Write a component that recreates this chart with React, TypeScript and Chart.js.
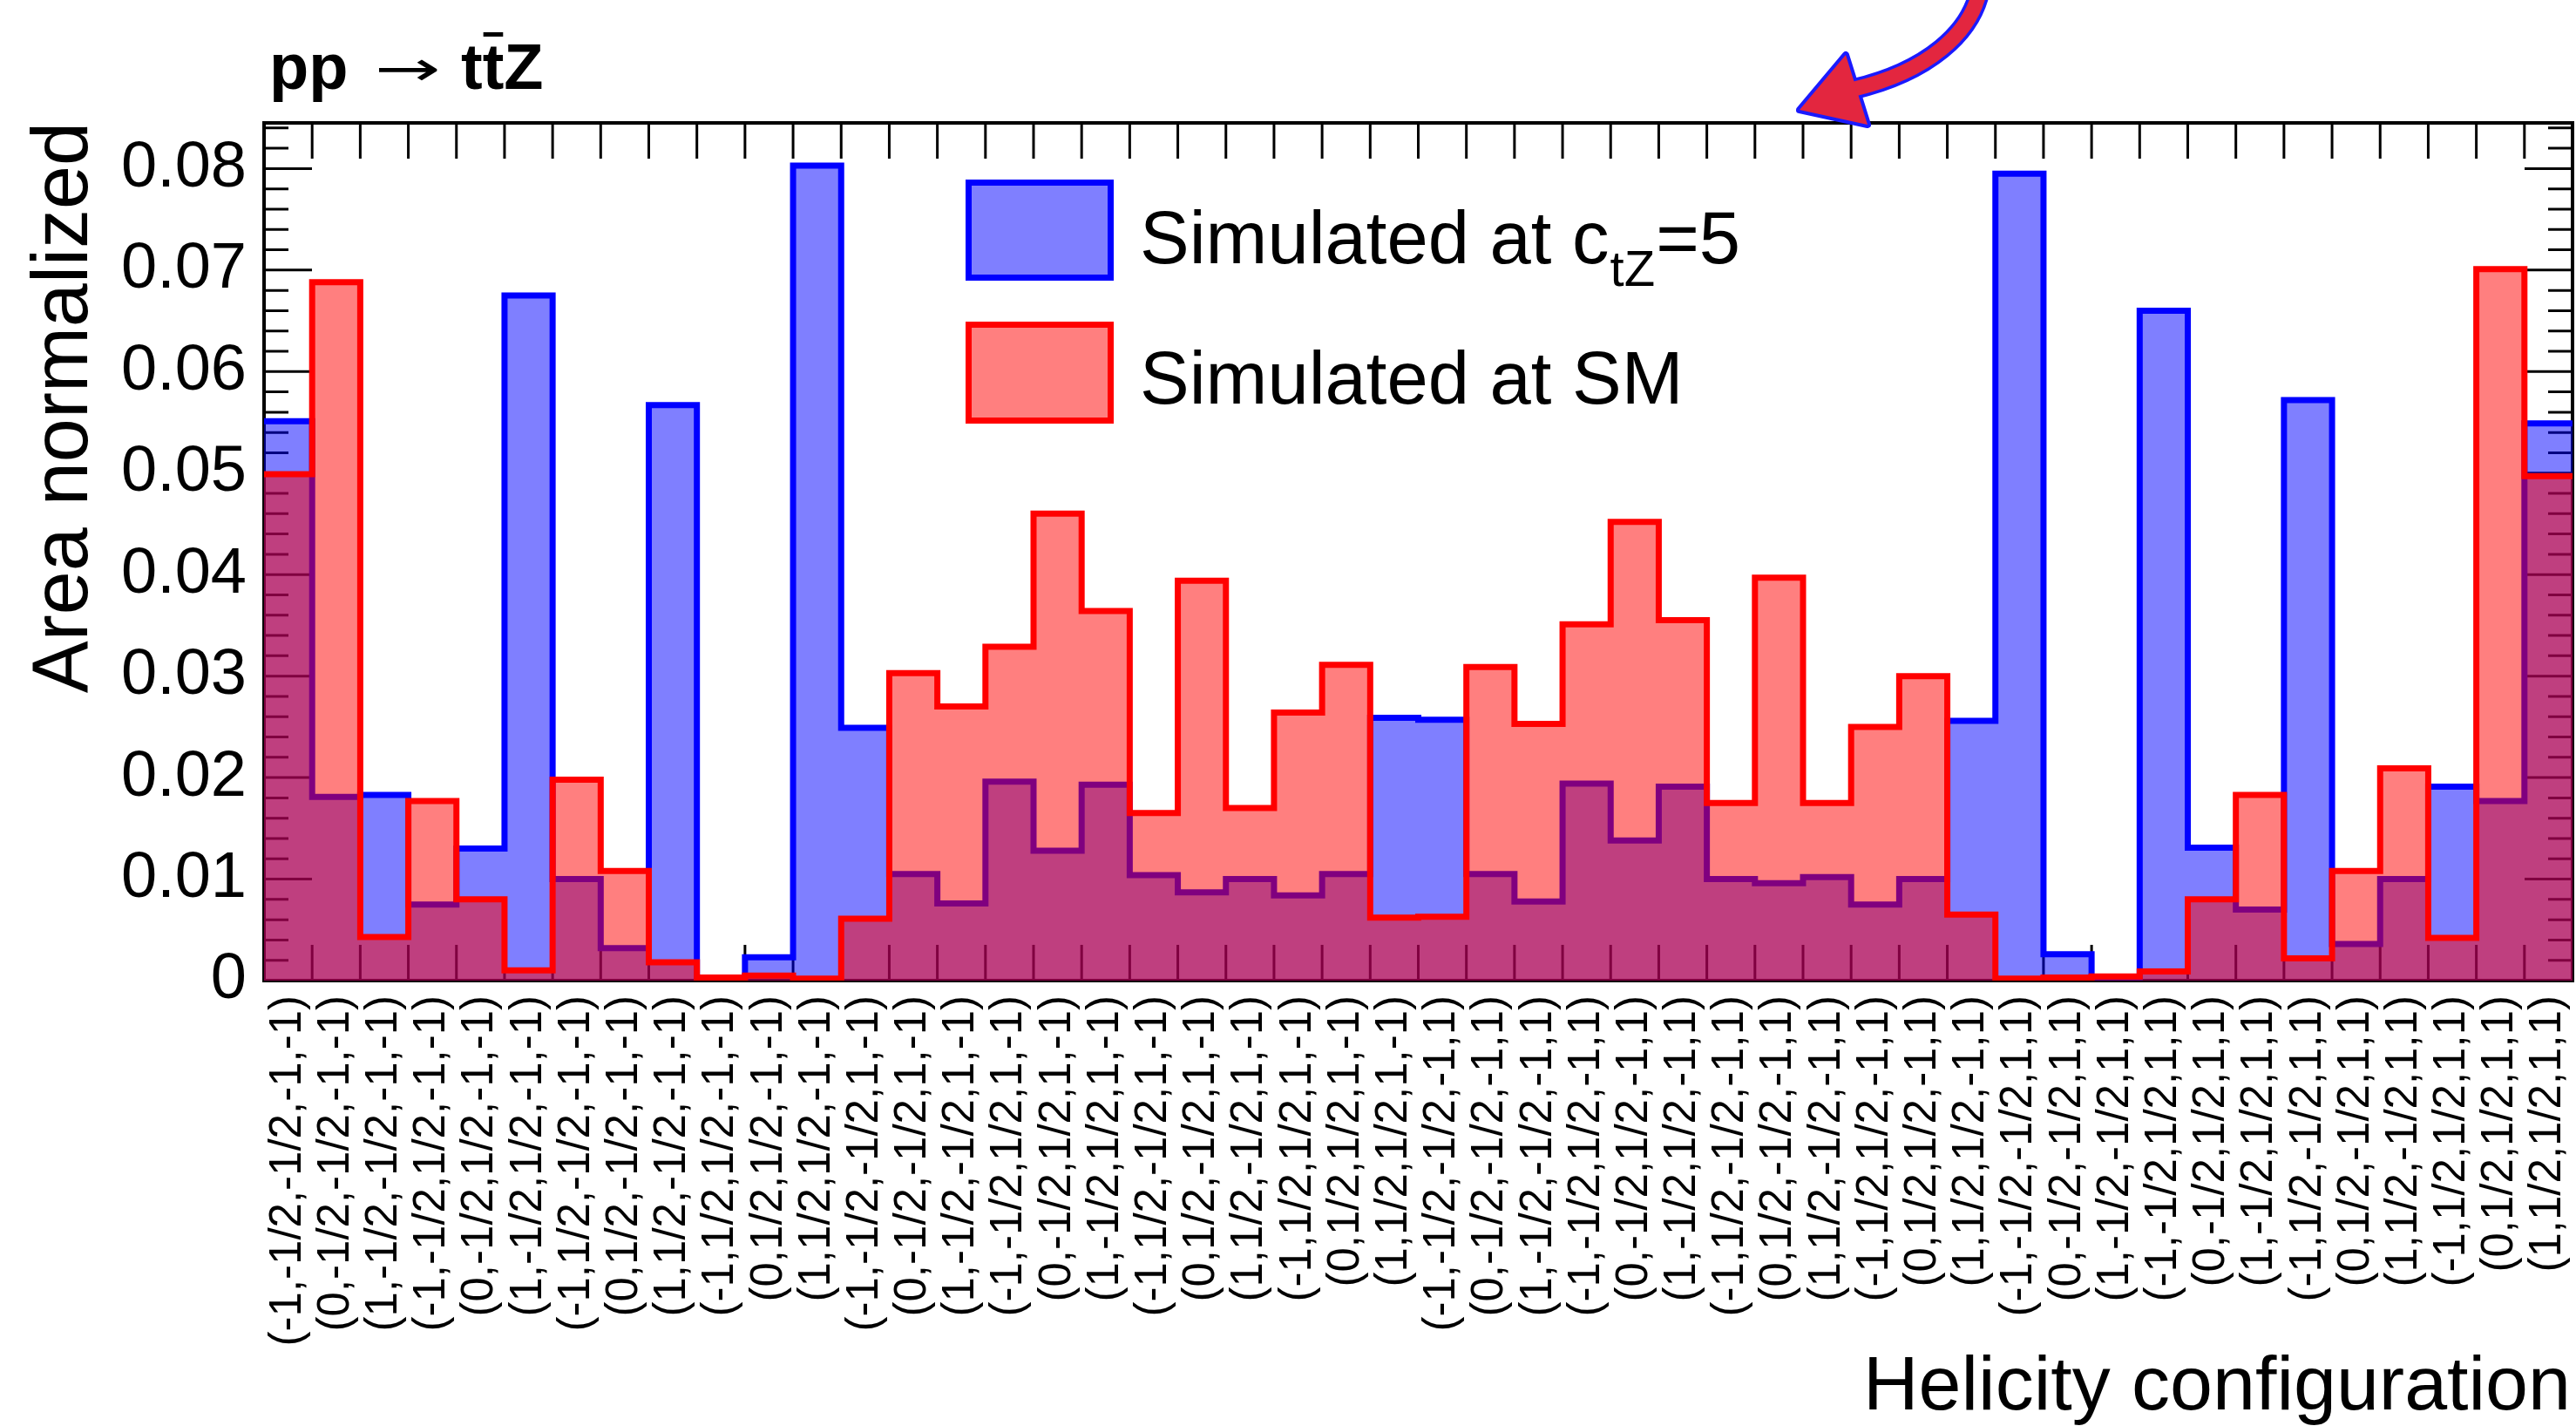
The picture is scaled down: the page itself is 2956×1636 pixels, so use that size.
import React, { useEffect, useRef } from 'react';
import { Chart, registerables } from 'chart.js';

Chart.register(...registerables);

const FONT = "'Liberation Sans', Arial, Helvetica, sans-serif";

// Helicity configurations (h_Z, h_t, h_tbar, h_g1, h_g2), one per bin
const CONFIGS = [
  '(-1,-1/2,-1/2,-1,-1)', '(0,-1/2,-1/2,-1,-1)', '(1,-1/2,-1/2,-1,-1)',
  '(-1,-1/2,1/2,-1,-1)', '(0,-1/2,1/2,-1,-1)', '(1,-1/2,1/2,-1,-1)',
  '(-1,1/2,-1/2,-1,-1)', '(0,1/2,-1/2,-1,-1)', '(1,1/2,-1/2,-1,-1)',
  '(-1,1/2,1/2,-1,-1)', '(0,1/2,1/2,-1,-1)', '(1,1/2,1/2,-1,-1)',
  '(-1,-1/2,-1/2,1,-1)', '(0,-1/2,-1/2,1,-1)', '(1,-1/2,-1/2,1,-1)',
  '(-1,-1/2,1/2,1,-1)', '(0,-1/2,1/2,1,-1)', '(1,-1/2,1/2,1,-1)',
  '(-1,1/2,-1/2,1,-1)', '(0,1/2,-1/2,1,-1)', '(1,1/2,-1/2,1,-1)',
  '(-1,1/2,1/2,1,-1)', '(0,1/2,1/2,1,-1)', '(1,1/2,1/2,1,-1)',
  '(-1,-1/2,-1/2,-1,1)', '(0,-1/2,-1/2,-1,1)', '(1,-1/2,-1/2,-1,1)',
  '(-1,-1/2,1/2,-1,1)', '(0,-1/2,1/2,-1,1)', '(1,-1/2,1/2,-1,1)',
  '(-1,1/2,-1/2,-1,1)', '(0,1/2,-1/2,-1,1)', '(1,1/2,-1/2,-1,1)',
  '(-1,1/2,1/2,-1,1)', '(0,1/2,1/2,-1,1)', '(1,1/2,1/2,-1,1)',
  '(-1,-1/2,-1/2,1,1)', '(0,-1/2,-1/2,1,1)', '(1,-1/2,-1/2,1,1)',
  '(-1,-1/2,1/2,1,1)', '(0,-1/2,1/2,1,1)', '(1,-1/2,1/2,1,1)',
  '(-1,1/2,-1/2,1,1)', '(0,1/2,-1/2,1,1)', '(1,1/2,-1/2,1,1)',
  '(-1,1/2,1/2,1,1)', '(0,1/2,1/2,1,1)', '(1,1/2,1/2,1,1)',
];

// Simulated at c_tZ = 5 (blue)
const CTZ5 = [
  0.0551, 0.0181, 0.0183, 0.0075, 0.0130, 0.0675, 0.0100, 0.0032, 0.0567, 0.0001, 0.0023, 0.0803,
  0.0249, 0.0105, 0.0076, 0.0196, 0.0128, 0.0193, 0.0104, 0.0087, 0.0100, 0.0084, 0.0105, 0.0259,
  0.0257, 0.0105, 0.0078, 0.0194, 0.0138, 0.0191, 0.0100, 0.0096, 0.0102, 0.0075, 0.0100, 0.0256,
  0.0795, 0.0026, 0.0001, 0.0660, 0.0131, 0.0070, 0.0572, 0.0036, 0.0100, 0.0191, 0.0177, 0.0549,
];

// Simulated at SM (red)
const SM = [
  0.0499, 0.0688, 0.0043, 0.0177, 0.0080, 0.0010, 0.0198, 0.0108, 0.0018, 0.0003, 0.0005, 0.0002,
  0.0061, 0.0303, 0.0270, 0.0329, 0.0460, 0.0364, 0.0165, 0.0394, 0.0170, 0.0264, 0.0311, 0.0062,
  0.0063, 0.0309, 0.0253, 0.0351, 0.0452, 0.0355, 0.0175, 0.0397, 0.0175, 0.0250, 0.0300, 0.0065,
  0.0002, 0.0003, 0.0004, 0.0009, 0.0080, 0.0183, 0.0022, 0.0108, 0.0209, 0.0042, 0.0701, 0.0497,
];

const Y_TICKS = [0, 0.01, 0.02, 0.03, 0.04, 0.05, 0.06, 0.07, 0.08];
const Y_LABELS = ['0', '0.01', '0.02', '0.03', '0.04', '0.05', '0.06', '0.07', '0.08'];
const Y_MAX = 0.0845;
const Y_MINOR_STEP = 0.002;

const X_TITLE = 'Helicity configuration';
const Y_TITLE = 'Area normalized';
const LEGEND_SM = 'Simulated at SM';

function stepPoints(vals: number[]) {
  const pts = vals.map((v, i) => ({ x: i, y: v }));
  pts.push({ x: vals.length, y: vals[vals.length - 1] });
  return pts;
}

const framePlugin = {
  id: 'rootFrame',
  beforeDatasetsDraw(chart: any) {
    const { ctx, chartArea: a, scales } = chart;
    const x = scales.x;
    const y = scales.y;
    ctx.save();
    ctx.strokeStyle = '#000';
    ctx.lineWidth = 3;
    ctx.beginPath();
    for (let i = 1; i < CONFIGS.length; i++) {
      const px = x.getPixelForValue(i);
      ctx.moveTo(px, a.top);
      ctx.lineTo(px, a.top + 41);
      ctx.moveTo(px, a.bottom);
      ctx.lineTo(px, a.bottom - 41);
    }
    for (let k = 0; k * Y_MINOR_STEP <= Y_MAX + 1e-9; k++) {
      const py = y.getPixelForValue(k * Y_MINOR_STEP);
      const len = k % 5 === 0 ? 55 : 28;
      ctx.moveTo(a.left, py);
      ctx.lineTo(a.left + len, py);
      ctx.moveTo(a.right, py);
      ctx.lineTo(a.right - len, py);
    }
    ctx.stroke();
    ctx.lineWidth = 4;
    ctx.strokeRect(a.left, a.top, a.right - a.left, a.bottom - a.top);
    ctx.restore();
  },
};

const decorPlugin = {
  id: 'rootDecor',
  afterDraw(chart: any) {
    const { ctx, chartArea: a } = chart;
    ctx.save();
    ctx.fillStyle = '#000';
    ctx.textAlign = 'left';
    ctx.textBaseline = 'alphabetic';

    // Title: pp -> t tbar Z
    ctx.font = `bold 74px ${FONT}`;
    ctx.fillText('pp', 309, 102);
    ctx.save();
    ctx.font = `80px 'DejaVu Sans', sans-serif`;
    const aw = ctx.measureText('\u2192').width || 67;
    ctx.translate(430, 98);
    ctx.scale(76 / aw, 0.7);
    ctx.fillText('\u2192', 0, 0);
    ctx.restore();
    ctx.font = `bold 74px ${FONT}`;
    const x0 = 529;
    const tw = ctx.measureText('t').width;
    ctx.fillText('t', x0, 102);
    ctx.fillText('t', x0 + tw, 102);
    ctx.fillRect(x0 + tw + 1, 37, tw - 2, 5);
    ctx.fillText('Z', x0 + 2 * tw, 102);

    // Axis titles
    ctx.font = `88px ${FONT}`;
    ctx.textAlign = 'right';
    ctx.fillText(X_TITLE, a.right - 2, 1617);
    ctx.save();
    ctx.translate(100, 140);
    ctx.rotate(-Math.PI / 2);
    ctx.font = `90px ${FONT}`;
    ctx.textAlign = 'right';
    ctx.fillText(Y_TITLE, 0, 0);
    ctx.restore();

    // Legend
    ctx.textAlign = 'left';
    ctx.lineWidth = 7;
    ctx.fillStyle = 'rgba(0,0,255,0.5)';
    ctx.fillRect(1111.5, 209.5, 163, 109);
    ctx.strokeStyle = '#0000ff';
    ctx.strokeRect(1111.5, 209.5, 163, 109);
    ctx.fillStyle = 'rgba(255,0,0,0.5)';
    ctx.fillRect(1111.5, 372.5, 163, 110);
    ctx.strokeStyle = '#ff0000';
    ctx.strokeRect(1111.5, 372.5, 163, 110);

    ctx.fillStyle = '#000';
    ctx.font = `85px ${FONT}`;
    const t1 = 'Simulated at c';
    ctx.fillText(t1, 1308, 302);
    let cx = 1308 + ctx.measureText(t1).width;
    ctx.font = `58px ${FONT}`;
    ctx.fillText('tZ', cx + 1, 328);
    cx += ctx.measureText('tZ').width + 2;
    ctx.font = `85px ${FONT}`;
    ctx.fillText('=5', cx, 302);
    ctx.fillText(LEGEND_SM, 1308, 463);

    // Hand-drawn annotation arrow
    ctx.lineCap = 'round';
    ctx.lineJoin = 'round';
    const shaft = () => {
      ctx.beginPath();
      ctx.moveTo(2272, -12);
      ctx.bezierCurveTo(2262, 38, 2212, 82, 2128, 102);
    };
    const head = () => {
      ctx.beginPath();
      ctx.moveTo(2065, 126);
      ctx.lineTo(2118, 63);
      ctx.lineTo(2143, 143);
      ctx.closePath();
    };
    ctx.strokeStyle = '#1a1aff';
    shaft();
    ctx.lineWidth = 24;
    ctx.stroke();
    head();
    ctx.lineWidth = 8;
    ctx.stroke();
    ctx.strokeStyle = '#e3263f';
    shaft();
    ctx.lineWidth = 17;
    ctx.stroke();
    head();
    ctx.fillStyle = '#e3263f';
    ctx.fill();
    ctx.restore();
  },
};

export default function App() {
  const ref = useRef<HTMLCanvasElement | null>(null);

  useEffect(() => {
    if (!ref.current) return;
    const chart = new Chart(ref.current, {
      type: 'line',
      data: {
        datasets: [
          {
            label: 'Simulated at SM',
            data: stepPoints(SM),
            borderColor: '#ff0000',
            backgroundColor: 'rgba(255,0,0,0.5)',
            fill: 'origin',
            stepped: 'before',
            borderWidth: 7,
            borderJoinStyle: 'miter',
            borderCapStyle: 'butt',
            pointRadius: 0,
            tension: 0,
            order: 0,
          },
          {
            label: 'Simulated at c_tZ=5',
            data: stepPoints(CTZ5),
            borderColor: '#0000ff',
            backgroundColor: 'rgba(0,0,255,0.5)',
            fill: 'origin',
            stepped: 'before',
            borderWidth: 7,
            borderJoinStyle: 'miter',
            borderCapStyle: 'butt',
            pointRadius: 0,
            tension: 0,
            order: 1,
          },
        ],
      },
      options: {
        responsive: false,
        maintainAspectRatio: false,
        animation: false,
        devicePixelRatio: 1,
        layout: { padding: { top: 141, right: 4, left: 0, bottom: 0 } },
        plugins: {
          legend: { display: false },
          tooltip: { enabled: false },
          title: { display: false },
        },
        scales: {
          x: {
            type: 'linear',
            min: 0,
            max: CONFIGS.length,
            grid: { display: false, drawTicks: false },
            border: { display: false },
            afterBuildTicks: (s: any) => {
              s.ticks = CONFIGS.map((_, i) => ({ value: i + 0.5 }));
            },
            afterFit: (s: any) => {
              s.height = 511;
              s.paddingLeft = 0;
              s.paddingRight = 0;
            },
            ticks: {
              autoSkip: false,
              minRotation: 90,
              maxRotation: 90,
              padding: 17,
              color: '#000',
              font: { family: FONT, size: 51 },
              callback: (_v: any, i: number) => CONFIGS[i],
            },
          },
          y: {
            type: 'linear',
            min: 0,
            max: Y_MAX,
            grid: { display: false, drawTicks: false },
            border: { display: false },
            afterBuildTicks: (s: any) => {
              s.ticks = Y_TICKS.map((v) => ({ value: v }));
            },
            afterFit: (s: any) => {
              s.width = 303;
              s.paddingTop = 0;
              s.paddingBottom = 0;
            },
            ticks: {
              padding: 20,
              color: '#000',
              font: { family: FONT, size: 74 },
              callback: (_v: any, i: number) => Y_LABELS[i],
            },
          },
        },
      },
      plugins: [framePlugin, decorPlugin],
    } as any);
    return () => chart.destroy();
  }, []);

  return (
    <div style={{ position: 'fixed', left: 0, top: 0, width: 2956, height: 1636, background: '#fff' }}>
      <canvas ref={ref} width={2956} height={1636} style={{ display: 'block', width: 2956, height: 1636 }} />
    </div>
  );
}
